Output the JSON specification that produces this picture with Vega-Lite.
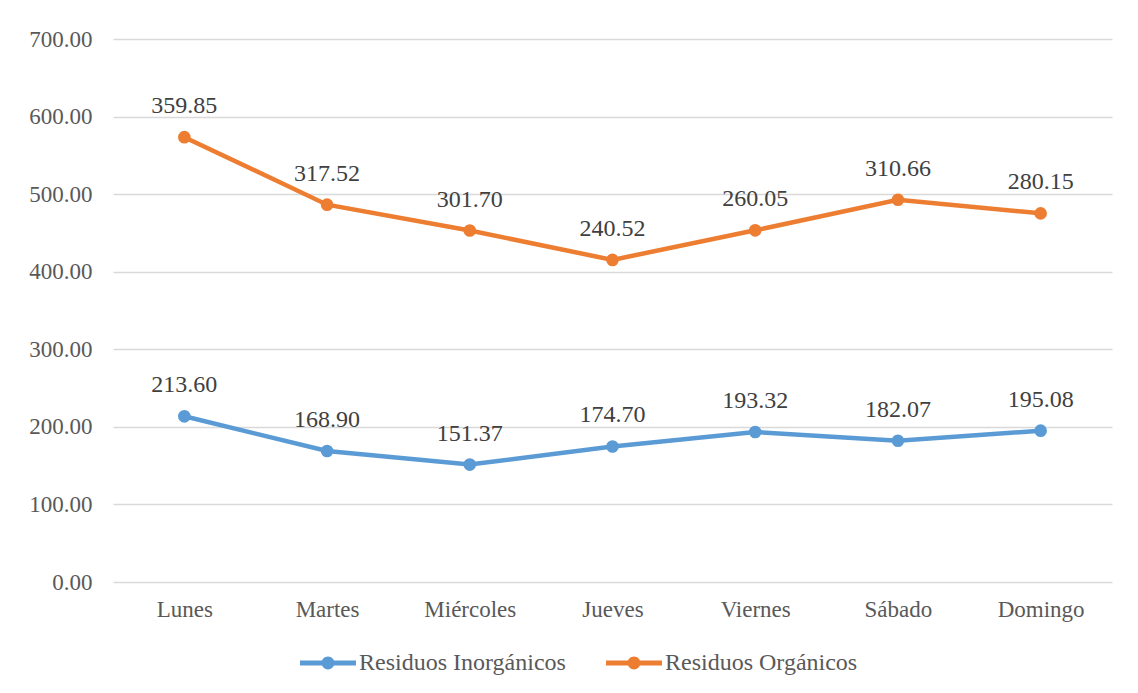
{
  "$schema": "https://vega.github.io/schema/vega-lite/v6.json",
  "width": 999,
  "height": 543,
  "autosize": "none",
  "padding": {"left": 113, "top": 39, "right": 26, "bottom": 111},
  "background": "white",
  "config": {
    "font": "Liberation Serif",
    "view": {"stroke": null}
  },
  "data": {
    "values": [
      {"day": "Lunes", "series": "Residuos Inorgánicos", "value": 213.60},
      {"day": "Martes", "series": "Residuos Inorgánicos", "value": 168.90},
      {"day": "Miércoles", "series": "Residuos Inorgánicos", "value": 151.37},
      {"day": "Jueves", "series": "Residuos Inorgánicos", "value": 174.70},
      {"day": "Viernes", "series": "Residuos Inorgánicos", "value": 193.32},
      {"day": "Sábado", "series": "Residuos Inorgánicos", "value": 182.07},
      {"day": "Domingo", "series": "Residuos Inorgánicos", "value": 195.08},
      {"day": "Lunes", "series": "Residuos Orgánicos", "value": 359.85},
      {"day": "Martes", "series": "Residuos Orgánicos", "value": 317.52},
      {"day": "Miércoles", "series": "Residuos Orgánicos", "value": 301.70},
      {"day": "Jueves", "series": "Residuos Orgánicos", "value": 240.52},
      {"day": "Viernes", "series": "Residuos Orgánicos", "value": 260.05},
      {"day": "Sábado", "series": "Residuos Orgánicos", "value": 310.66},
      {"day": "Domingo", "series": "Residuos Orgánicos", "value": 280.15}
    ]
  },
  "transform": [
    {"stack": "value", "groupby": ["day"], "sort": [{"field": "series", "order": "ascending"}], "as": ["y0", "y1"]}
  ],
  "encoding": {
    "x": {
      "field": "day",
      "type": "ordinal",
      "sort": ["Lunes", "Martes", "Miércoles", "Jueves", "Viernes", "Sábado", "Domingo"],
      "scale": {"type": "point", "padding": 0.5},
      "axis": {
        "title": null,
        "domain": false,
        "ticks": false,
        "labelAngle": 0,
        "labelFont": "Liberation Serif",
        "labelFontSize": 23,
        "labelColor": "#595959",
        "labelPadding": 16,
        "grid": false
      }
    },
    "y": {
      "field": "y1",
      "type": "quantitative",
      "scale": {"domain": [0, 700], "nice": false},
      "axis": {
        "title": null,
        "values": [0, 100, 200, 300, 400, 500, 600, 700],
        "format": ".2f",
        "domain": false,
        "ticks": false,
        "labelFont": "Liberation Serif",
        "labelFontSize": 23,
        "labelColor": "#595959",
        "labelPadding": 21,
        "gridColor": "#d9d9d9",
        "gridWidth": 1.5
      }
    },
    "color": {
      "field": "series",
      "type": "nominal",
      "scale": {"domain": ["Residuos Inorgánicos", "Residuos Orgánicos"], "range": ["#5B9BD5", "#ED7D31"]},
      "legend": {
        "title": null,
        "orient": "none",
        "legendX": 187,
        "legendY": 596,
        "direction": "horizontal",
        "labelFont": "Liberation Serif",
        "labelFontSize": 24,
        "labelColor": "#595959",
        "labelLimit": 400,
        "symbolType": "M -1 -0.09 L 1 -0.09 L 1 0.09 L -1 0.09 Z M 0.23 0 A 0.23 0.23 0 1 1 -0.23 0 A 0.23 0.23 0 1 1 0.23 0 Z",
        "symbolSize": 3136,
        "symbolStrokeWidth": 0,
        "symbolOpacity": 1,
        "labelOffset": 3,
        "columnPadding": 40
      }
    }
  },
  "layer": [
    {"mark": {"type": "line", "strokeWidth": 4.5}},
    {"mark": {"type": "point", "filled": true, "size": 160, "opacity": 1}},
    {
      "mark": {"type": "text", "dy": -31, "fontSize": 24, "font": "Liberation Serif", "color": "#404040"},
      "encoding": {
        "text": {"field": "value", "type": "quantitative", "format": ".2f"},
        "color": {"value": "#404040"}
      }
    }
  ]
}
